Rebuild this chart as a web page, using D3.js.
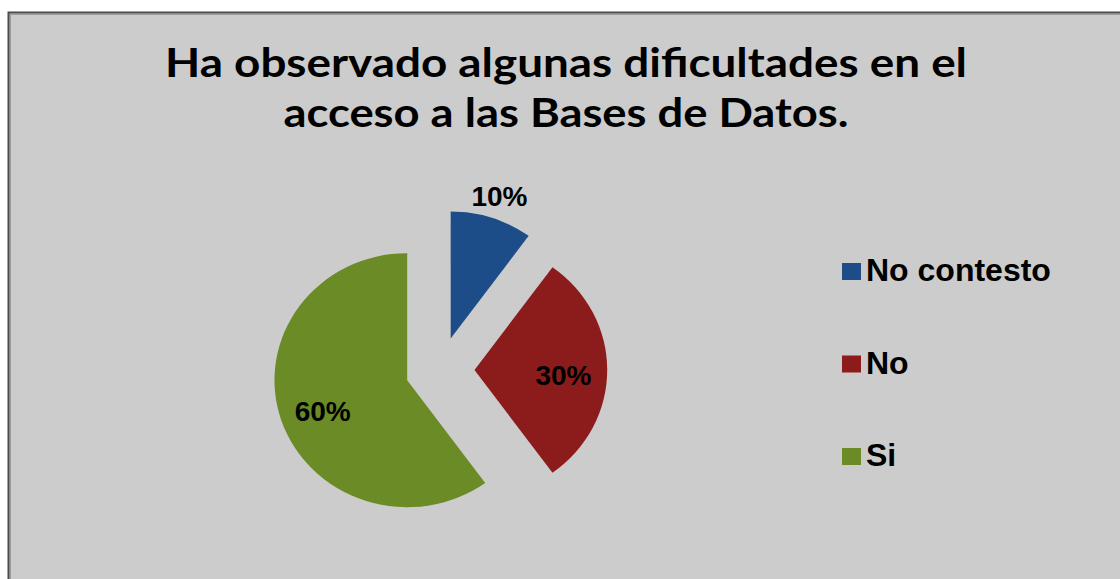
<!DOCTYPE html>
<html>
<head>
<meta charset="utf-8">
<script src="https://cdn.jsdelivr.net/npm/d3@7"></script>
<style>
  html, body { margin: 0; padding: 0; background: #ffffff; }
  svg { display: block; }
</style>
</head>
<body>
<div id="chart"></div>
<script>
// Chart data
const titleLines = ["Ha observado algunas dificultades en el", "acceso a las Bases de Datos."];
const categories = ["No contesto", "No", "Si"];
const values = [10, 30, 60];
const sliceColors = ["#1c4d89", "#8c1b1b", "#6a8b25"];

// Set up the chart dimensions
const width = 1120, height = 579;
const pieCenter = { x: 440, y: 370 };
const radius = 127;
const stretchX = 1.045; // the source picture is slightly wider than tall
const explodeDist = 33;

const svg = d3.select("#chart")
  .append("svg")
  .attr("width", width)
  .attr("height", height);

// Chart area background and border
svg.append("rect")
  .attr("x", 8.5)
  .attr("y", 12.5)
  .attr("width", width)
  .attr("height", height)
  .attr("fill", "#cccccc")
  .attr("stroke", "#4a4a4a")
  .attr("stroke-width", 2);

svg.append("rect")
  .attr("x", 10.5)
  .attr("y", 14.5)
  .attr("width", width)
  .attr("height", height)
  .attr("fill", "none")
  .attr("stroke", "#9a9a9a")
  .attr("stroke-width", 1);

// Title, two lines
const titleWidths = [802, 565];
svg.selectAll(".title")
  .data(titleLines)
  .enter().append("text")
  .attr("class", "title")
  .attr("x", 566)
  .attr("y", (d, i) => 77 + i * 50)
  .attr("text-anchor", "middle")
  .attr("font-family", "Lato, 'Open Sans', sans-serif")
  .attr("font-weight", "bold")
  .attr("font-size", 41)
  .attr("textLength", (d, i) => titleWidths[i])
  .attr("lengthAdjust", "spacingAndGlyphs")
  .attr("fill", "#000")
  .text(d => d);

// Pie layout, Excel style: start at 12 o'clock, clockwise, no sorting
const total = d3.sum(values);
const pie = d3.pie().sort(null).value(d => d.value);
const arcs = pie(categories.map((c, i) => ({ name: c, value: values[i], color: sliceColors[i] })));

const arc = d3.arc().innerRadius(0).outerRadius(radius);

const pieG = svg.append("g")
  .attr("transform", `translate(${pieCenter.x},${pieCenter.y}) scale(${stretchX},1)`);

// Each slice is pulled out along its middle angle
const midAngle = d => (d.startAngle + d.endAngle) / 2;
const offset = (d, dist) => [Math.sin(midAngle(d)) * dist, -Math.cos(midAngle(d)) * dist];

pieG.selectAll(".slice")
  .data(arcs)
  .enter().append("path")
  .attr("class", "slice")
  .attr("transform", d => `translate(${offset(d, explodeDist)})`)
  .attr("d", arc)
  .attr("fill", d => d.data.color);

// Percent labels: inside for big slices, outside for small ones
const isSmall = d => d.value / total < 0.15;
const labelR = d => explodeDist + (isSmall(d) ? radius * 1.19 : radius * 0.67);

const labelG = svg.append("g")
  .attr("transform", `translate(${pieCenter.x},${pieCenter.y})`);

labelG.selectAll(".pct")
  .data(arcs)
  .enter().append("text")
  .attr("class", "pct")
  .attr("x", d => offset(d, labelR(d))[0] * stretchX)
  .attr("y", d => offset(d, labelR(d))[1] + (isSmall(d) ? 11 : 15))
  .attr("text-anchor", "middle")
  .attr("font-family", "'Liberation Sans', Arial, sans-serif")
  .attr("font-weight", "bold")
  .attr("font-size", 28)
  .attr("fill", "#000")
  .text(d => Math.round(d.value / total * 100) + "%");

// Legend
const legendY = d3.scalePoint()
  .domain(categories)
  .range([271, 456]);

const legend = svg.selectAll(".legend")
  .data(arcs)
  .enter().append("g")
  .attr("class", "legend")
  .attr("transform", d => `translate(842,${legendY(d.data.name)})`);

legend.append("rect")
  .attr("x", 0)
  .attr("y", -8)
  .attr("width", 19)
  .attr("height", 17)
  .attr("fill", d => d.data.color);

legend.append("text")
  .attr("x", 24)
  .attr("y", 10)
  .attr("font-family", "'Liberation Sans', Arial, sans-serif")
  .attr("font-weight", "bold")
  .attr("font-size", 32)
  .attr("fill", "#000")
  .text(d => d.data.name);
</script>
</body>
</html>
